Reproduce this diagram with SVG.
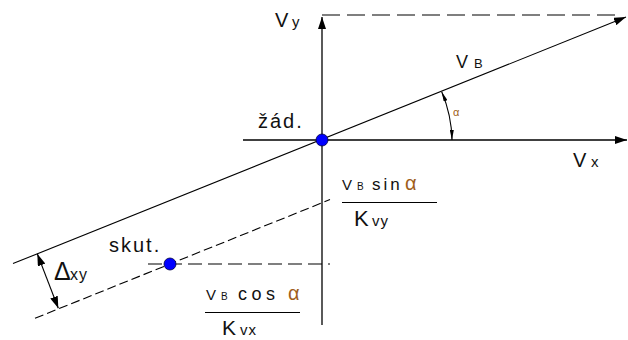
<svg xmlns="http://www.w3.org/2000/svg" width="628" height="340" viewBox="0 0 628 340">
<style>
.ln{stroke:#000;stroke-width:1.1;fill:none}
.ax{stroke:#000;stroke-width:1.3;fill:none}
.d1{stroke-dasharray:18 7}
.d2{stroke-dasharray:9 4}
.d3{stroke-dasharray:14 6}
text{font-family:"Liberation Sans",Arial,sans-serif;fill:#111}
.al{fill:#a0601a}
.dot{fill:#0000ff;stroke:#000040;stroke-width:0.8}
</style>
<defs>
<marker id="ah" viewBox="0 0 12 8" refX="12" refY="4" markerWidth="12" markerHeight="8" markerUnits="userSpaceOnUse" orient="auto-start-reverse">
<path d="M0,0 L12,4 L0,8 Z" fill="#000"/>
</marker>
<marker id="as" viewBox="0 0 10 4" refX="10" refY="2" markerWidth="10" markerHeight="4" markerUnits="userSpaceOnUse" orient="auto-start-reverse">
<path d="M0,0 L10,2 L0,4 Z" fill="#000"/>
</marker>
</defs>
<g id="connectors">
<line class="ax" x1="243" y1="140" x2="627" y2="140" marker-end="url(#ah)"/>
<line class="ax" x1="322" y1="325" x2="322" y2="17" marker-end="url(#ah)"/>
<line class="ln" x1="13" y1="263.6" x2="626" y2="17" marker-end="url(#ah)"/>
<line class="ln d1" x1="322" y1="15" x2="618" y2="15"/>
<line class="ln d2" x1="35" y1="318.3" x2="330" y2="199.6"/>
<line class="ln d3" x1="148" y1="264" x2="330" y2="264"/>
<path class="ln" d="M441.7,91.7 A130,130 0 0 1 452,140" marker-start="url(#as)" marker-end="url(#as)"/>
<line class="ln" x1="37.3" y1="253.8" x2="58.3" y2="308.3" marker-start="url(#ah)" marker-end="url(#ah)"/>
<line class="ln" x1="342" y1="202.5" x2="437" y2="202.5"/>
<line class="ln" x1="205" y1="312.5" x2="300" y2="312.5"/>
</g>
<g id="node-zad">
<circle class="dot" cx="322" cy="140" r="6"/>
<text x="258" y="128" font-size="20" letter-spacing="2">žád.</text>
</g>
<g id="node-skut">
<circle class="dot" cx="170" cy="264" r="6"/>
<text x="109" y="252" font-size="20" letter-spacing="2">skut.</text>
</g>
<g id="labels">
<text y="27"><tspan x="275" font-size="20">V</tspan><tspan x="292" font-size="15">y</tspan></text>
<text y="68"><tspan x="456" font-size="18">V</tspan><tspan x="474" font-size="13">B</tspan></text>
<text class="al" x="453" y="116" font-size="11">α</text>
<text y="167"><tspan x="573" font-size="20">V</tspan><tspan x="591" font-size="15">x</tspan></text>
<text y="280"><tspan x="54" font-size="25">Δ</tspan><tspan x="70" font-size="16" letter-spacing="1">xy</tspan></text>
<text y="190"><tspan x="342" font-size="15">V</tspan><tspan x="357" font-size="10">B</tspan><tspan x="372" font-size="17" letter-spacing="3">sin</tspan></text>
<text class="al" x="405" y="190" font-size="20">α</text>
<text y="226"><tspan x="354" font-size="22">K</tspan><tspan x="372" font-size="15" letter-spacing="1">vy</tspan></text>
<text y="300"><tspan x="206" font-size="15">V</tspan><tspan x="221" font-size="10">B</tspan><tspan x="238" font-size="18" letter-spacing="4.5">cos</tspan></text>
<text class="al" x="288" y="300" font-size="20">α</text>
<text y="335"><tspan x="222" font-size="21">K</tspan><tspan x="240" font-size="15" letter-spacing="1">vx</tspan></text>
</g>
</svg>
